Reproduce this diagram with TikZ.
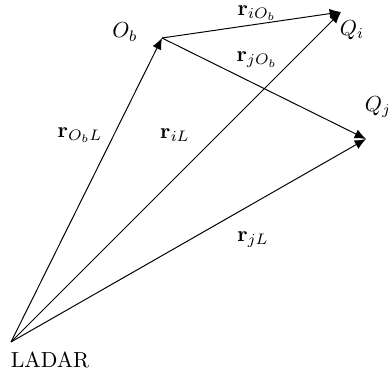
\documentclass[tikz,border=0pt]{standalone}
\usetikzlibrary{arrows.meta}
\begin{document}
\begin{tikzpicture}[x=0.459pt,y=-0.459pt,
  vec/.style={-{Latex[length=5.2pt,width=4.4pt]},line width=0.45pt},
  lbl/.style={inner sep=0pt}]
\useasboundingbox (0,0) rectangle (388,379);
\coordinate (L) at (11,342);
\coordinate (O) at (162,38);
\coordinate (Qi) at (341,12);
\coordinate (Qj) at (366,139);
\node[lbl] (lL) at (50,360) {LADAR};
\node[lbl] (lO) at (125,32) {$O_b$};
\node[lbl] (lQi) at (352,30) {$Q_i$};
\node[lbl] (lQj) at (378,107) {$Q_j$};
\node[lbl] (riO) at (257,13) {$\mathbf{r}_{iO_b}$};
\node[lbl] (rjO) at (257,60) {$\mathbf{r}_{jO_b}$};
\node[lbl] (rOL) at (80,135) {$\mathbf{r}_{O_bL}$};
\node[lbl] (riL) at (175,135) {$\mathbf{r}_{iL}$};
\node[lbl] (rjL) at (253,240) {$\mathbf{r}_{jL}$};
\draw[vec] (L) -- (O);
\draw[vec] (L) -- (Qi);
\draw[vec] (L) -- (Qj);
\draw[vec] (O) -- (Qi);
\draw[vec] (O) -- (Qj);
\end{tikzpicture}
\end{document}
